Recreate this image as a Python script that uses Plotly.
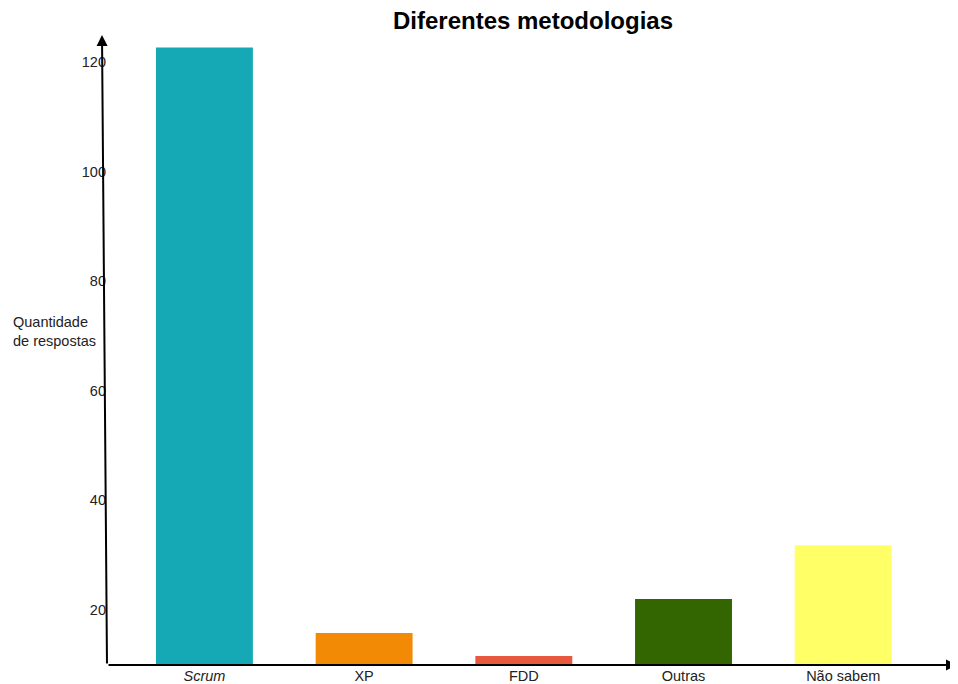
import plotly.graph_objects as go

categories = ["<i>Scrum</i>", "XP", "FDD", "Outras", "Não sabem"]
values = [122.6, 15.8, 11.6, 22.0, 31.8]
colors = ["#15A9B6", "#F28A05", "#E8573F", "#336600", "#FFFF66"]
y_ticks = [20, 40, 60, 80, 100, 120]

# the page body adds an 8px offset; compensate so the picture lines up
OFF = 8
W, H = 958 - OFF, 684 - OFF
L, R, T, B = 107 - OFF, 3, 35 - OFF, 19
pw = W - L - R
ph = H - T - B

fig = go.Figure()
fig.add_trace(go.Bar(
    x=list(range(len(categories))),
    y=values,
    marker=dict(color=colors, line=dict(width=0)),
    width=0.607,
    hoverinfo="skip",
))

fig.update_layout(
    width=W, height=H,
    margin=dict(l=L, r=R, t=T, b=B, pad=0, autoexpand=False),
    paper_bgcolor="white",
    plot_bgcolor="white",
    showlegend=False,
    font=dict(family="Liberation Sans, Arial, sans-serif", size=14, color="#222"),
    title=dict(text="<b>Diferentes metodologias</b>", x=(533 - OFF) / W, xanchor="center",
               y=1 - (21 - OFF) / H, yanchor="middle",
               font=dict(size=24, color="#000")),
    xaxis=dict(
        range=[-0.61, 4.70],
        tickvals=list(range(len(categories))),
        ticktext=categories,
        showgrid=False, zeroline=False, showline=False, ticks="",
        tickfont=dict(size=14.5, color="#222"),
        automargin=False,
    ),
    yaxis=dict(
        range=[9.96, 124.9],
        tickvals=y_ticks,
        showgrid=False, zeroline=False, showline=False, ticks="",
        tickfont=dict(size=14.5, color="#222"),
        ticklabelstandoff=0,
        automargin=False,
    ),
)

# axis arrows (y axis slightly tilted as in the reference)
fig.add_annotation(xref="paper", yref="paper", x=(102 - 107) / pw, y=1,
                   ax=5, ay=630, axref="pixel", ayref="pixel",
                   text="", showarrow=True, arrowhead=2, arrowsize=1.1,
                   arrowwidth=2, arrowcolor="#000")
fig.add_annotation(xref="paper", yref="paper", x=(966 - 107) / pw, y=0,
                   ax=-859, ay=0, axref="pixel", ayref="pixel",
                   text="", showarrow=True, arrowhead=2, arrowsize=1.1,
                   arrowwidth=2, arrowcolor="#000")

# y axis title
fig.add_annotation(xref="paper", yref="paper", x=(11 - 107) / pw, y=1 - (331 - 35) / ph,
                   xanchor="left", yanchor="middle", align="left",
                   text="Quantidade<br>de respostas", showarrow=False,
                   font=dict(size=14.5, color="#222"))

fig.write_html("out.html")
